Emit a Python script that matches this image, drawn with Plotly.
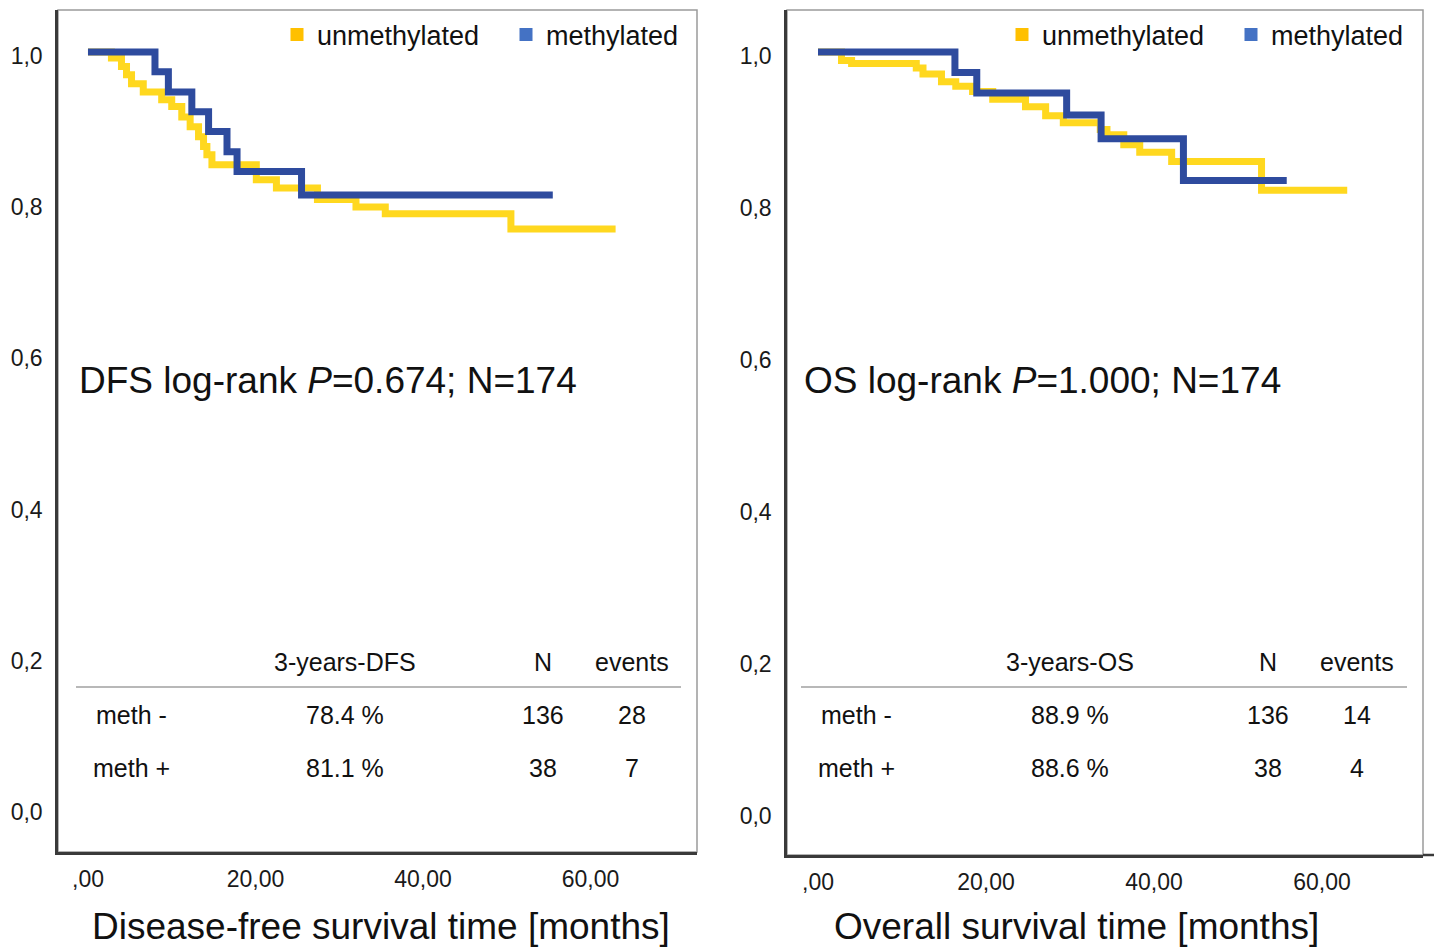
import plotly.graph_objects as go

W, H = 1434, 947

# ---------------- data ----------------
# Disease-free survival (Kaplan-Meier steps)
dfs_unmeth_t = [0, 2.8, 4.0, 4.6, 5.2, 6.6, 8.8, 10.0, 11.2, 12.2, 13.2, 13.8, 14.2, 14.8,
                20.1, 22.5, 27.4, 32.0, 35.5, 50.5, 63.0]
dfs_unmeth_s = [1.0, 0.992, 0.981, 0.970, 0.958, 0.947, 0.937, 0.928, 0.914, 0.901, 0.888,
                0.875, 0.864, 0.851, 0.831, 0.820, 0.805, 0.795, 0.786, 0.766, 0.766]
dfs_meth_t = [0, 8.0, 9.6, 12.4, 14.4, 16.6, 17.8, 25.5, 55.5]
dfs_meth_s = [1.0, 0.974, 0.947, 0.921, 0.895, 0.868, 0.842, 0.811, 0.811]

# Overall survival
os_unmeth_t = [0, 2.8, 4.0, 11.7, 12.5, 14.7, 16.4, 18.4, 20.8, 24.7, 27.1, 29.2, 33.6, 34.4,
               36.4, 38.3, 42.1, 52.8, 63.0]
os_unmeth_s = [1.0, 0.989, 0.985, 0.979, 0.971, 0.961, 0.955, 0.948, 0.938, 0.928, 0.916,
               0.907, 0.898, 0.891, 0.878, 0.868, 0.856, 0.818, 0.818]
os_meth_t = [0, 16.3, 18.9, 29.6, 33.7, 43.5, 55.8]
os_meth_s = [1.0, 0.973, 0.946, 0.917, 0.886, 0.831, 0.831]

group_names = ["unmethylated", "methylated"]
x_tickvals = [0, 20, 40, 60]
x_ticktext = [",00", "20,00", "40,00", "60,00"]
y_tickvals = [0, 0.2, 0.4, 0.6, 0.8, 1.0]
y_ticktext = ["0,0", "0,2", "0,4", "0,6", "0,8", "1,0"]

table_rows = ["meth -", "meth +"]
dfs_header = ["3-years-DFS", "N", "events"]
dfs_rate = ["78.4 %", "81.1 %"]
dfs_n = ["136", "38"]
dfs_events = ["28", "7"]
os_header = ["3-years-OS", "N", "events"]
os_rate = ["88.9 %", "88.6 %"]
os_n = ["136", "38"]
os_events = ["14", "4"]

dfs_stat = "DFS log-rank <i>P</i>=0.674; N=174"
os_stat = "OS log-rank <i>P</i>=1.000; N=174"
dfs_xtitle = "Disease-free survival time [months]"
os_xtitle = "Overall survival time [months]"

# ---------------- styling ----------------
FONT = "Liberation Sans, Arial, sans-serif"
LINE_YEL = "#FFD81F"
LINE_BLU = "#2E4B9E"
KEY_YEL = "#FFC000"
KEY_BLU = "#4472C4"
LW = 7


def px(x):
    return x / W


def py(y):
    return 1 - y / H


fig = go.Figure()

# legend start positions (pixels) for each key entry
legend_px = {("x", 0): 277, ("x", 1): 506, ("x2", 0): 1002, ("x2", 1): 1231}
legend_ids = {("x", 0): "legend", ("x", 1): "legend2", ("x2", 0): "legend3", ("x2", 1): "legend4"}

panels = [
    ("x", "y", dfs_unmeth_t, dfs_unmeth_s, dfs_meth_t, dfs_meth_s),
    ("x2", "y2", os_unmeth_t, os_unmeth_s, os_meth_t, os_meth_s),
]
for xa, ya, ut, us, mt, ms in panels:
    fig.add_trace(go.Scatter(x=ut, y=us, mode="lines", line=dict(color=LINE_YEL, width=LW, shape="hv"),
                             xaxis=xa, yaxis=ya, showlegend=False, hoverinfo="skip"))
    fig.add_trace(go.Scatter(x=mt, y=ms, mode="lines", line=dict(color=LINE_BLU, width=LW, shape="hv"),
                             xaxis=xa, yaxis=ya, showlegend=False, hoverinfo="skip"))
    # legend keys (square swatches)
    for i, (name, col) in enumerate(zip(group_names, [KEY_YEL, KEY_BLU])):
        fig.add_trace(go.Scatter(x=[None], y=[None], mode="markers", name=name,
                                 marker=dict(symbol="square", size=13, color=col),
                                 xaxis=xa, yaxis=ya, legend=legend_ids[(xa, i)], showlegend=True))

common_x = dict(showgrid=False, zeroline=False, showline=True, linecolor="#3a3a3a", linewidth=2.5,
                tickvals=x_tickvals, ticktext=x_ticktext, ticks="",
                tickfont=dict(family=FONT, size=23, color="#1a1a1a"), ticklabelstandoff=5)
common_y = dict(showgrid=False, zeroline=False, showline=True, linecolor="#3a3a3a", linewidth=2.5,
                tickvals=y_tickvals, ticktext=y_ticktext, ticks="",
                tickfont=dict(family=FONT, size=23, color="#1a1a1a"), ticklabelstandoff=8,
                ticklabelshift=4)

legend_style = dict(orientation="h", xanchor="left", yanchor="middle", y=py(35),
                    font=dict(family=FONT, size=27, color="#111"), bgcolor="rgba(0,0,0,0)",
                    itemwidth=30)

fig.update_layout(
    width=W, height=H,
    margin=dict(l=0, r=0, t=0, b=0),
    paper_bgcolor="white", plot_bgcolor="white",
    font=dict(family=FONT, color="#111"),
    xaxis=dict(domain=[px(58), px(697)], range=[-3.58, 72.72], anchor="y", **common_x),
    yaxis=dict(domain=[py(852), py(10)], range=[-0.0582, 1.0556], anchor="x", **common_y),
    xaxis2=dict(domain=[px(787), px(1423)], range=[-3.69, 72.02], anchor="y2", **common_x),
    yaxis2=dict(domain=[py(855), py(10)], range=[-0.0566, 1.0553], anchor="x2", **common_y),
    showlegend=True,
)
for key, lid in legend_ids.items():
    fig.update_layout({lid: dict(x=px(legend_px[key]), **legend_style)})

shapes = []
# panel frames
for xd, yd in [("x domain", "y domain"), ("x2 domain", "y2 domain")]:
    shapes.append(dict(type="rect", xref=xd, yref=yd, x0=0, x1=1, y0=0, y1=1,
                       line=dict(color="#9a9a9a", width=1.5), layer="below"))
# bottom axis extension on right panel
shapes.append(dict(type="line", xref="paper", yref="y2 domain", x0=px(1423), x1=1, y0=0, y1=0,
                   line=dict(color="#3a3a3a", width=2.5)))
# table rules
shapes.append(dict(type="line", xref="paper", yref="paper", x0=px(76), x1=px(681), y0=py(687), y1=py(687),
                   line=dict(color="#a0a0a0", width=1.5)))
shapes.append(dict(type="line", xref="paper", yref="paper", x0=px(801), x1=px(1407), y0=py(687), y1=py(687),
                   line=dict(color="#a0a0a0", width=1.5)))
fig.update_layout(shapes=shapes)

ann = []


def text(x, y, s, size, anchor="center"):
    ann.append(dict(x=px(x), y=py(y), xref="paper", yref="paper", text=s, showarrow=False,
                    xanchor=anchor, yanchor="middle", font=dict(family=FONT, size=size, color="#111")))


# log-rank statements
text(77, 380, dfs_stat, 37, "left")
text(802, 380, os_stat, 37, "left")
# axis titles
text(381, 926, dfs_xtitle, 37)
text(1076, 926, os_xtitle, 37)

# tables
TS = 25
for x0, hdr, rate, n, ev in [(0, dfs_header, dfs_rate, dfs_n, dfs_events),
                              (725, os_header, os_rate, os_n, os_events)]:
    cols = [345 + x0, 543 + x0, 632 + x0]
    for cx, h in zip(cols, hdr):
        text(cx, 662, h, TS)
    for i, ry in enumerate([715, 768]):
        text(131 + x0, ry, table_rows[i], TS)
        text(cols[0], ry, rate[i], TS)
        text(cols[1], ry, n[i], TS)
        text(cols[2], ry, ev[i], TS)

fig.update_layout(annotations=ann)

fig.write_html("out.html", config={"displayModeBar": False},
               post_script="document.body.style.margin='0';")
